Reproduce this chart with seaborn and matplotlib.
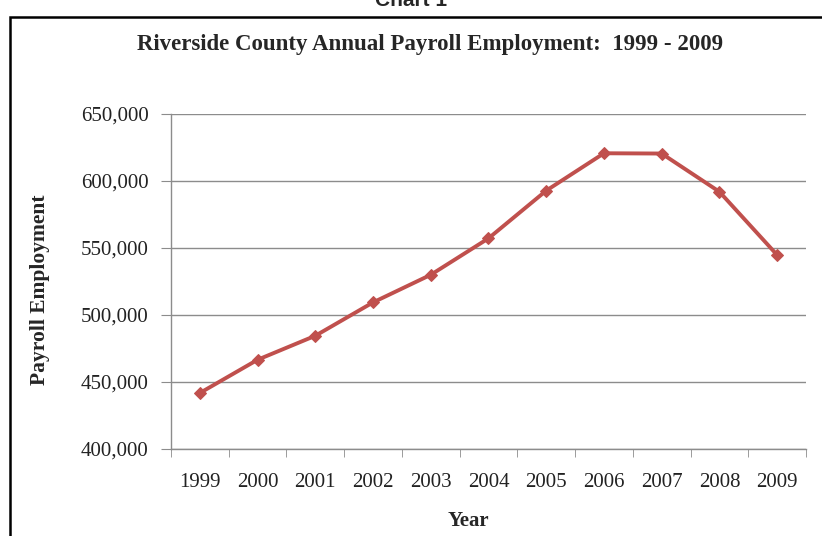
import pandas as pd
import seaborn as sns
import numpy as np
import matplotlib.pyplot as plt
import matplotlib.patches as mpatches
from matplotlib.ticker import FuncFormatter, FixedLocator

years = ['1999', '2000', '2001', '2002', '2003', '2004', '2005', '2006', '2007', '2008', '2009']
employment = [441800, 466600, 484500, 509400, 530000, 557200, 592800, 620700, 620500, 592000, 544800]
y_ticks = [400000, 450000, 500000, 550000, 600000, 650000]

df = pd.DataFrame({'year': years, 'employment': employment})

sns.set_style('white')
plt.rcParams['font.family'] = ['Liberation Serif', 'DejaVu Serif']

fig = plt.figure(figsize=(8.22, 5.36), dpi=100, facecolor='white')
ax = fig.add_axes([0.208, 0.1623, 0.7725, 0.625])

sns.lineplot(data=df, x='year', y='employment', ax=ax, color='#C0504D',
             linewidth=2.8, marker='D', markersize=6.5, markeredgecolor='#C0504D',
             sort=False)

grid_col = '#8c8c8c'
ax.set_ylim(400000, 650000)
ax.set_xlim(-0.5, len(years) - 0.5)
ax.yaxis.set_major_locator(FixedLocator(y_ticks))
ax.yaxis.set_major_formatter(FuncFormatter(lambda v, p: f'{int(v):,}'))
ax.grid(axis='y', color=grid_col, linewidth=1)
ax.set_axisbelow(True)

for s in ['top', 'right']:
    ax.spines[s].set_visible(False)
for s in ['left', 'bottom']:
    ax.spines[s].set_color(grid_col)
    ax.spines[s].set_linewidth(1)

# category boundary ticks on the x axis
ax.xaxis.set_minor_locator(FixedLocator(np.arange(-0.5, len(years), 1.0)))
ax.tick_params(axis='x', which='major', length=0, pad=17, labelsize=15, labelcolor='#222222')
ax.tick_params(axis='x', which='minor', length=6, color=grid_col, direction='out', bottom=True)
ax.tick_params(axis='y', which='major', length=7, color=grid_col, direction='out', left=True,
               pad=9, labelsize=15, labelcolor='#222222')

ax.set_xlabel('Year', fontsize=15, fontweight='bold', va='center')
ax.set_ylabel('Payroll Employment', fontsize=15.5, fontweight='bold', va='center')
ax.xaxis.set_label_coords(0.468, -0.215)
ax.yaxis.set_label_coords(-0.206, 0.475)

fig.text(0.523, 0.917, 'Riverside County Annual Payroll Employment:  1999 - 2009',
         ha='center', va='center', fontsize=16.5, fontweight='bold')
fig.text(0.5, 1.0, 'Chart 1', ha='center', va='center', fontsize=15, fontweight='bold',
         family=['Liberation Sans', 'DejaVu Sans'])

# outer frame around the chart
fig.patches.append(mpatches.Rectangle((10 / 822, -0.1), 1.0, 1.0 - 17 / 536 + 0.1,
                                      transform=fig.transFigure, fill=False,
                                      edgecolor='black', linewidth=1.8))

plt.savefig('out.png', dpi=100, facecolor='white')
